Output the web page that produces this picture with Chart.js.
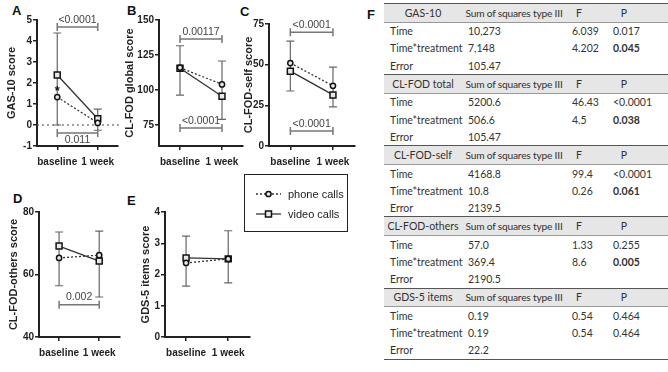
<!DOCTYPE html>
<html>
<head>
<meta charset="utf-8">
<script src="https://cdn.jsdelivr.net/npm/chart.js@4.4.0/dist/chart.umd.min.js"></script>
<style>
  body { margin: 0; background: #fff; }
  #fig { position: relative; width: 668px; height: 372px; overflow: hidden; font-family: "Liberation Sans", Arial, sans-serif; }
  .panel { position: absolute; }
  .letter { position: absolute; font-weight: bold; font-size: 13px; line-height: 1; color: #111; }
  #legend { position: absolute; left: 244px; top: 174px; width: 104px; height: 58px; border: 1px solid #222; box-sizing: border-box; font-size: 11px; color: #222; }
  #legend .item { position: absolute; left: 10px; height: 14px; line-height: 14px; white-space: nowrap; }
  #legend svg { vertical-align: top; margin-right: 6px; }
  #tbl { position: absolute; left: 384px; top: 3px; border-collapse: collapse; table-layout: fixed; width: 292px; font-family: Lato, "Open Sans", sans-serif; font-size: 10.5px; color: #333; }
  #tbl td { padding: 0 0 0 6px; white-space: nowrap; overflow: visible; height: 17.2px; }
  #tbl tr.head td { background: #e6e6e6; border-top: 1.5px solid #555; border-bottom: 1px solid #999; text-align: center; padding: 0; height: 17.6px; }
  #tbl tr.head td.ss { letter-spacing: -0.2px; font-size: 10.2px; }
  #tbl tr.last td { border-bottom: 1.5px solid #555; }
  #tbl td.p { padding-left: 21px; }
</style>
</head>
<body>
<div id="fig">
  <div class="letter" style="left:12px;top:4px">A</div>
  <div class="letter" style="left:127px;top:4px">B</div>
  <div class="letter" style="left:240px;top:5px">C</div>
  <div class="letter" style="left:13px;top:192px">D</div>
  <div class="letter" style="left:127px;top:194px">E</div>
  <div class="letter" style="left:367px;top:8px">F</div>

  <div class="panel" style="left:0px;top:0px"><canvas id="chartA" width="125" height="180"></canvas></div>
  <div class="panel" style="left:118px;top:0px"><canvas id="chartB" width="132" height="180"></canvas></div>
  <div class="panel" style="left:237px;top:0px"><canvas id="chartC" width="123" height="180"></canvas></div>
  <div class="panel" style="left:2px;top:180px"><canvas id="chartD" width="123" height="192"></canvas></div>
  <div class="panel" style="left:134px;top:180px"><canvas id="chartE" width="121" height="192"></canvas></div>

  <div id="legend">
    <div class="item" style="top:12px"><svg width="27" height="14"><line x1="1" y1="7" x2="26" y2="7" stroke="#333" stroke-width="1.3" stroke-dasharray="2,2"/><circle cx="13.5" cy="7" r="2.6" fill="#e8e8e8" stroke="#111" stroke-width="1.5"/></svg>phone calls</div>
    <div class="item" style="top:32px"><svg width="27" height="14"><line x1="1" y1="7" x2="26" y2="7" stroke="#333" stroke-width="1.3"/><rect x="10.5" y="4" width="6" height="6" fill="#e8e8e8" stroke="#111" stroke-width="1.5"/></svg>video calls</div>
  </div>

  <table id="tbl">
    <colgroup><col style="width:78px"><col style="width:104px"><col style="width:26px"><col style="width:64px"><col style="width:20px"></colgroup>
    <tbody id="tbody"></tbody>
  </table>
</div>

<script>
const timepoints = ['baseline', '1 week'];

// A: GAS-10
const gasPhone = [1.33, 0.1];
const gasVideo = [2.38, 0.3];
const gasErrLow = [0, -0.25];
const gasErrHigh = [4.38, 0.76];
const gasTicks = [-1, 0, 1, 2, 3, 4, 5];
const gasBrackets = [[4.67, '<0.0001', false], [-0.38, '0.011', true]];
const gasStars = [[0, 1.75]];

// B: CL-FOD global
const globalPhone = [116, 104];
const globalVideo = [115.5, 95.5];
const globalErrLow = [96.4, 79];
const globalErrHigh = [131.6, 120.7];
const globalTicks = [75, 100, 125, 150];
const globalBrackets = [[136.4, '0.00117', false], [72.9, '<0.0001', false]];

// C: CL-FOD-self
const selfPhone = [51, 37];
const selfVideo = [46, 31.4];
const selfErrLow = [33.8, 24];
const selfErrHigh = [64.5, 48.5];
const selfTicks = [0, 25, 50, 75];
const selfBrackets = [[70, '<0.0001', false], [9.2, '<0.0001', false]];

// D: CL-FOD-others
const othersPhone = [65.3, 66.2];
const othersVideo = [69.1, 64.3];
const othersErrLow = [56.4, 52.8];
const othersErrHigh = [73.6, 73.9];
const othersTicks = [40, 60, 80];
const othersBrackets = [[50.3, '0.002', false]];

// E: GDS-5 items
const gdsPhone = [2.37, 2.5];
const gdsVideo = [2.53, 2.5];
const gdsErrLow = [1.63, 1.73];
const gdsErrHigh = [3.23, 3.4];
const gdsTicks = [0, 1, 2, 3, 4];

// F: ANOVA table
const tableSections = ['GAS-10', 'CL-FOD total', 'CL-FOD-self', 'CL-FOD-others', 'GDS-5 items'];
const tableHeader = ['Sum of squares type III', 'F', 'P'];
const rowNames = ['Time', 'Time*treatment', 'Error'];
const sumSquares = [['10,273', '7,148', '105.47'], ['5200.6', '506.6', '105.47'], ['4168.8', '10.8', '2139.5'], ['57.0', '369.4', '2190.5'], ['0.19', '0.19', '22.2']];
const fValues = [['6.039', '4.202', ''], ['46.43', '4.5', ''], ['99.4', '0.26', ''], ['1.33', '8.6', ''], ['0.54', '0.54', '']];
const pValues = [['0.017', '0.045', ''], ['<0.0001', '0.038', ''], ['<0.0001', '0.061', ''], ['0.255', '0.005', ''], ['0.464', '0.464', '']];
const boldInteraction = [true, true, true, true, false];

const FONT = '"Liberation Sans", Arial, sans-serif';
const INK = '#222';

const extras = {
  id: 'extras',
  beforeDatasetsDraw(chart, args, opts) {
    const { ctx, chartArea } = chart;
    const x = chart.scales.x, y = chart.scales.y;
    ctx.save();
    if (opts.zeroLine) {
      const py = y.getPixelForValue(0);
      ctx.strokeStyle = '#444';
      ctx.lineWidth = 1.2;
      ctx.setLineDash([2, 3]);
      ctx.beginPath();
      ctx.moveTo(chartArea.left, py);
      ctx.lineTo(chartArea.right + 2, py);
      ctx.stroke();
      ctx.setLineDash([]);
    }
    // error bars
    ctx.strokeStyle = '#666';
    ctx.lineWidth = 1.2;
    opts.low.forEach((lo, i) => {
      const px = x.getPixelForValue(i);
      const y1 = y.getPixelForValue(lo), y2 = y.getPixelForValue(opts.high[i]);
      ctx.beginPath();
      ctx.moveTo(px, y1); ctx.lineTo(px, y2);
      ctx.moveTo(px - 4, y1); ctx.lineTo(px + 4, y1);
      ctx.moveTo(px - 4, y2); ctx.lineTo(px + 4, y2);
      ctx.stroke();
    });
    ctx.restore();
  },
  afterDatasetsDraw(chart, args, opts) {
    const { ctx } = chart;
    const x = chart.scales.x, y = chart.scales.y;
    ctx.save();
    // significance brackets between the two time points
    (opts.brackets || []).forEach(([val, label, below]) => {
      const x1 = x.getPixelForValue(0), x2 = x.getPixelForValue(1);
      const py = y.getPixelForValue(val);
      ctx.strokeStyle = '#777';
      ctx.lineWidth = 1.5;
      ctx.beginPath();
      ctx.moveTo(x1, py); ctx.lineTo(x2, py);
      ctx.moveTo(x1, py - 4); ctx.lineTo(x1, py + 4);
      ctx.moveTo(x2, py - 4); ctx.lineTo(x2, py + 4);
      ctx.stroke();
      ctx.fillStyle = '#444';
      ctx.font = '10.5px ' + FONT;
      ctx.textAlign = 'center';
      ctx.textBaseline = below ? 'top' : 'bottom';
      ctx.fillText(label, (x1 + x2) / 2, below ? py + 2 : py - 2);
    });
    // significance star, drawn dark over the error bar
    (opts.stars || []).forEach(([i, val]) => {
      ctx.fillStyle = '#111';
      ctx.font = 'bold 13px ' + FONT;
      ctx.textAlign = 'center';
      ctx.textBaseline = 'middle';
      ctx.fillText('*', x.getPixelForValue(i), y.getPixelForValue(val) + 3);
    });
    ctx.restore();
  }
};

const pts = arr => arr.map((v, i) => ({ x: i, y: v }));

function makePanel(id, p) {
  const tickFont = { family: FONT, size: 10, weight: 'bold' };
  return new Chart(document.getElementById(id), {
    type: 'line',
    data: {
      datasets: [
        {
          label: 'phone calls', data: pts(p.phone),
          borderColor: '#333', borderWidth: 1.3, borderDash: [2, 2],
          pointStyle: 'circle', pointRadius: 2.6,
          pointBackgroundColor: '#e8e8e8', pointBorderColor: '#111', pointBorderWidth: 1.5
        },
        {
          label: 'video calls', data: pts(p.video),
          borderColor: '#333', borderWidth: 1.3,
          pointStyle: 'rect', pointRadius: 4.2,
          pointBackgroundColor: '#e8e8e8', pointBorderColor: '#111', pointBorderWidth: 1.5
        }
      ]
    },
    options: {
      responsive: false,
      animation: false,
      devicePixelRatio: 1,
      layout: { padding: { top: p.padTop, right: p.padRight, left: 0, bottom: 0 } },
      plugins: {
        legend: { display: false },
        tooltip: { enabled: false },
        extras: { low: p.low, high: p.high, brackets: p.brackets, stars: p.stars, zeroLine: p.zeroLine }
      },
      scales: {
        x: {
          type: 'linear', min: -0.5, max: 1.5,
          afterBuildTicks: s => { s.ticks = timepoints.map((_, i) => ({ value: i })); },
          afterFit: s => { s.height = p.xH; },
          ticks: { callback: v => timepoints[v], font: tickFont, color: INK, padding: 6, maxRotation: 0, autoSkip: false },
          grid: { drawOnChartArea: false, color: INK, tickLength: 4, lineWidth: 1.5 },
          border: { color: INK, width: 2 }
        },
        y: {
          min: p.min, max: p.max,
          afterBuildTicks: s => { s.ticks = p.ticks.map(v => ({ value: v })); },
          afterFit: s => { s.width = p.yW; },
          ticks: { font: tickFont, color: INK, padding: 1 },
          grid: { drawOnChartArea: false, color: INK, tickLength: 4, lineWidth: 1.5 },
          border: { color: INK, width: 2 },
          title: { display: true, text: p.title, font: { family: FONT, size: 11, weight: 'bold' }, color: INK, padding: { top: 5, bottom: 0 } }
        }
      }
    },
    plugins: [extras]
  });
}

makePanel('chartA', { phone: gasPhone, video: gasVideo, low: gasErrLow, high: gasErrHigh, ticks: gasTicks, min: -1, max: 5,
  title: 'GAS-10 score', brackets: gasBrackets, stars: gasStars, zeroLine: true, yW: 37, padTop: 20, padRight: 7, xH: 34 });
makePanel('chartB', { phone: globalPhone, video: globalVideo, low: globalErrLow, high: globalErrHigh, ticks: globalTicks, min: 60, max: 150,
  title: 'CL-FOD global score', brackets: globalBrackets, yW: 41, padTop: 20, padRight: 7, xH: 34 });
makePanel('chartC', { phone: selfPhone, video: selfVideo, low: selfErrLow, high: selfErrHigh, ticks: selfTicks, min: 0, max: 75,
  title: 'CL-FOD-self score', brackets: selfBrackets, yW: 32, padTop: 24, padRight: 4, xH: 34 });
makePanel('chartD', { phone: othersPhone, video: othersVideo, low: othersErrLow, high: othersErrHigh, ticks: othersTicks, min: 40, max: 80,
  title: 'CL-FOD-others score', brackets: othersBrackets, yW: 37, padTop: 32, padRight: 4, xH: 35 });
makePanel('chartE', { phone: gdsPhone, video: gdsVideo, low: gdsErrLow, high: gdsErrHigh, ticks: gdsTicks, min: 0, max: 4,
  title: 'GDS-5 items score', yW: 31, padTop: 32, padRight: 5, xH: 35 });

// table F
const tbody = document.getElementById('tbody');
tableSections.forEach((name, s) => {
  const head = document.createElement('tr');
  head.className = 'head';
  [name, ...tableHeader, ''].forEach((t, c) => {
    const td = document.createElement('td');
    td.textContent = t;
    if (c === 1) td.className = 'ss';
    head.appendChild(td);
  });
  tbody.appendChild(head);
  rowNames.forEach((rn, r) => {
    const tr = document.createElement('tr');
    if (s === tableSections.length - 1 && r === rowNames.length - 1) tr.className = 'last';
    const cells = [rn, sumSquares[s][r], fValues[s][r], pValues[s][r], ''];
    cells.forEach((t, c) => {
      const td = document.createElement('td');
      td.textContent = t;
      if (c === 3) {
        td.className = 'p';
        if (r === 1 && boldInteraction[s]) td.style.fontWeight = 'bold';
      }
      tr.appendChild(td);
    });
    tbody.appendChild(tr);
  });
});
</script>
</body>
</html>
